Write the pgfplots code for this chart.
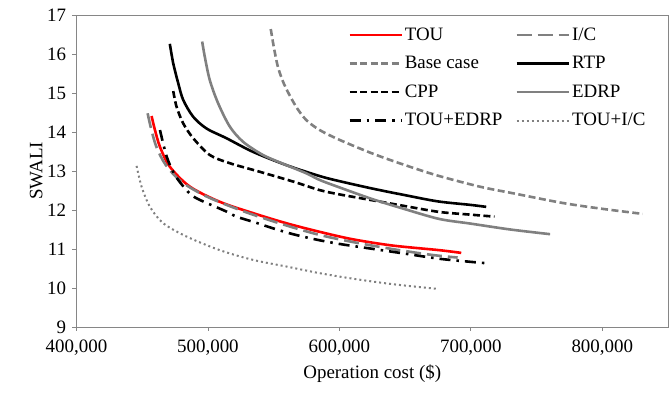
\documentclass[border=0pt]{standalone}
\usepackage{fontspec}
\setmainfont{Liberation Serif}
\usepackage{pgfplots}
\pgfplotsset{compat=1.18}
\usetikzlibrary{calc}
\definecolor{axgray}{RGB}{134,134,134}
\definecolor{lgray}{RGB}{128,128,128}
\definecolor{myred}{RGB}{255,0,0}

\pgfplotstableread{
x y
457100 14.41
459700 14.05
463500 13.62
471000 13.11
486200 12.60
509000 12.21
534300 11.92
559700 11.66
585000 11.44
610000 11.25
640000 11.09
676000 10.97
692700 10.90
}\tou
\pgfplotstableread{
x y
454100 14.48
457000 14.05
461000 13.60
468000 13.15
480000 12.72
500000 12.33
530000 11.93
560000 11.60
585000 11.36
610000 11.18
640000 11.00
670000 10.85
690000 10.78
}\ic
\pgfplotstableread{
x y
547800 16.64
550000 16.20
553000 15.70
557000 15.30
562000 14.95
568000 14.60
575000 14.30
585000 14.05
600000 13.80
625000 13.45
650000 13.15
675000 12.88
706600 12.60
731900 12.43
769900 12.18
800000 12.03
830800 11.90
}\base
\pgfplotstableread{
x y
471000 16.26
473600 15.76
477400 15.25
481200 14.82
488800 14.39
498900 14.09
514100 13.84
534300 13.49
559700 13.15
585000 12.87
600000 12.74
625000 12.55
650000 12.38
675000 12.22
700000 12.13
711700 12.08
}\rtp
\pgfplotstableread{
x y
473600 15.05
476100 14.65
481200 14.22
488800 13.84
501400 13.41
516600 13.20
539400 12.98
564700 12.73
585000 12.51
600000 12.40
625000 12.25
650000 12.10
676000 11.95
700000 11.88
718000 11.83
}\cpp
\pgfplotstableread{
x y
495600 16.32
497600 15.93
501400 15.33
507700 14.74
516600 14.14
526700 13.75
541900 13.41
559700 13.15
574900 12.94
585000 12.77
600000 12.58
625000 12.28
650000 12.02
676000 11.77
700000 11.65
730000 11.50
760300 11.38
}\edrp
\pgfplotstableread{
x y
463500 14.05
468600 13.37
474800 12.90
483700 12.51
491300 12.30
514100 11.96
521700 11.83
536900 11.67
549500 11.53
564700 11.38
581200 11.25
600000 11.13
630000 10.98
650000 10.88
676000 10.75
700000 10.67
713700 10.63
}\touedrp
\pgfplotstableread{
x y
445700 13.13
449500 12.60
455900 12.08
466000 11.66
483700 11.32
509000 10.97
534300 10.72
559700 10.55
585000 10.38
610000 10.24
640000 10.10
674000 9.98
}\touic

\begin{document}
\begin{tikzpicture}
\begin{axis}[name=ax, scale only axis, width=591.5bp, height=312bp,
  xmin=400000, xmax=850000, ymin=9, ymax=17,
  xtick={400000,500000,600000,700000,800000},
  xticklabels={{400,000},{500,000},{600,000},{700,000},{800,000}},
  ytick={9,10,...,17},
  yticklabels={9,10,11,12,13,14,15,16,17},
  axis line style={axgray, line width=0.8bp},
  tick style={axgray, line width=0.8bp},
  tick align=outside, tick pos=left, major tick length=4bp,
  scaled x ticks=false,
  ticklabel style={font=\fontsize{19}{22}\selectfont, inner sep=1bp},
  xticklabel style={yshift=-7.3bp},
  yticklabel style={xshift=-5.3bp},
  label style={font=\fontsize{19}{22}\selectfont},
  xlabel={Operation cost (\$)}, ylabel={SWALI},
  xlabel style={yshift=-5bp},
  legend columns=2,
  legend cell align=left,
  legend image code/.code={\draw[#1] (0bp,0bp) -- (52bp,0bp);},
  legend style={draw=none, fill=none, at={(0.454,0.978)}, anchor=north west,
    font=\fontsize{19}{22}\selectfont, row sep=6.5bp,
    nodes={text height=14bp, text depth=4bp},
    /tikz/every even column/.append style={column sep=11bp}},
  every axis plot/.append style={line width=2.6bp},
]
\addplot[myred, no markers, smooth] table {\tou};
\addlegendentry{TOU}
\addplot[lgray, no markers, smooth, dash pattern=on 15bp off 6bp] table {\ic};
\addlegendentry{I/C}
\addplot[lgray, no markers, smooth, dash pattern=on 7bp off 3.5bp] table {\base};
\addlegendentry{Base case}
\addplot[black, no markers, smooth] table {\rtp};
\addlegendentry{RTP}
\addplot[black, no markers, smooth, dash pattern=on 7bp off 3.5bp] table {\cpp};
\addlegendentry{CPP}
\addplot[lgray, no markers, smooth] table {\edrp};
\addlegendentry{EDRP}
\addplot[black, no markers, smooth, dash pattern=on 11bp off 6bp on 2.5bp off 6bp] table {\touedrp};
\addlegendentry{TOU+EDRP}
\addplot[lgray, no markers, smooth, line width=2bp, dash pattern=on 2bp off 3bp] table {\touic};
\addlegendentry{TOU+I/C}
\end{axis}
\path ($(ax.south west)+(-76.5bp,-68bp)$) rectangle ($(ax.north east)+(3bp,15bp)$);
\end{tikzpicture}
\end{document}
